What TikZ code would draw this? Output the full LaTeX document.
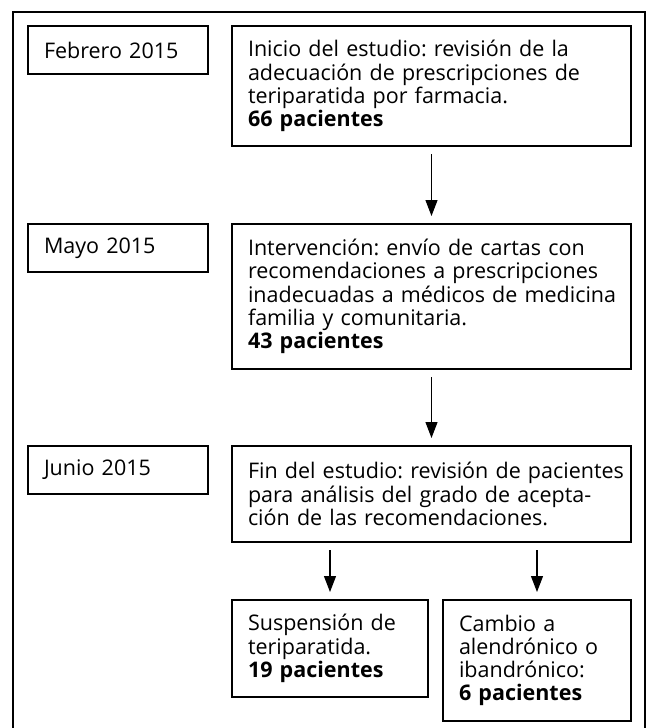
\documentclass[tikz,border=0pt]{standalone}
\usepackage{fontspec}
\setmainfont{Open Sans}
\usetikzlibrary{positioning,arrows.meta}
\frenchspacing

\begin{document}
\begin{tikzpicture}[
		x=1pt,y=-1pt,
		font=\fontsize{21.5}{23.2}\selectfont,
		fecha/.style={
			draw,
			line width=1.5pt,
			anchor=north west,
			outer sep=0pt,
			minimum height=48pt,
			text width=148pt,
			inner xsep=16pt,
			inner ysep=0pt,
			align=left
		},
		caja/.style={
			fecha,
			text width=367pt
		},
		flecha/.style={
			-{Triangle[width=12pt,length=16pt]},
			line width=1.1pt,
			shorten <=8pt,
			shorten >=8pt
		}
		]
		
		\useasboundingbox (0,0) rectangle (649,728);
		\draw[line width=2.6pt] (13,12) rectangle (645,745);
		
		% primera fila
		\node[fecha] (feb) at (28,26) {Febrero 2015};
		\node[caja, minimum height=120pt] (ini) at (232,26)
		{Inicio del estudio: revisión de la\\
			adecuación de prescripciones de\\
			teriparatida por farmacia.\\
			\textbf{66 pacientes}};
		
		% intervencion
		\node[caja, minimum height=145pt, below=78pt of ini] (inter)
		{Intervención: envío de cartas con\\
			\mbox{recomendaciones a prescripciones}\\
			\mbox{inadecuadas a médicos de medicina}\\
			familia y comunitaria.\\
			\textbf{43 pacientes}};
		\node[fecha] (may) at (feb.west |- inter.north) {Mayo 2015};
		
		% fin
		\node[caja, minimum height=96pt, below=77pt of inter] (fin)
		{\mbox{Fin del estudio: revisión de pacientes}\\
			para análisis del grado de acepta-\\
			ción de las recomendaciones.};
		\node[fecha] (jun) at (feb.west |- fin.north) {Junio 2015};
		
		% resultados
		\node[caja, text width=164pt, minimum height=97pt] (susp) at (232,600)
		{Suspensión de\\
			teriparatida.\\
			\textbf{19 pacientes}};
		\node[caja, text width=156pt, minimum height=121pt] (camb) at (443,600)
		{Cambio a\\
			alendrónico o\\
			ibandrónico:\\
			\textbf{6 pacientes}};
		
		\draw[flecha] (ini) -- (inter);
		\draw[flecha] (inter) -- (fin);
		\draw[flecha] (fin.south -| susp.north) -- (susp.north);
		\draw[flecha] (fin.south -| camb.north) -- (camb.north);
		
\end{tikzpicture}
\end{document}
